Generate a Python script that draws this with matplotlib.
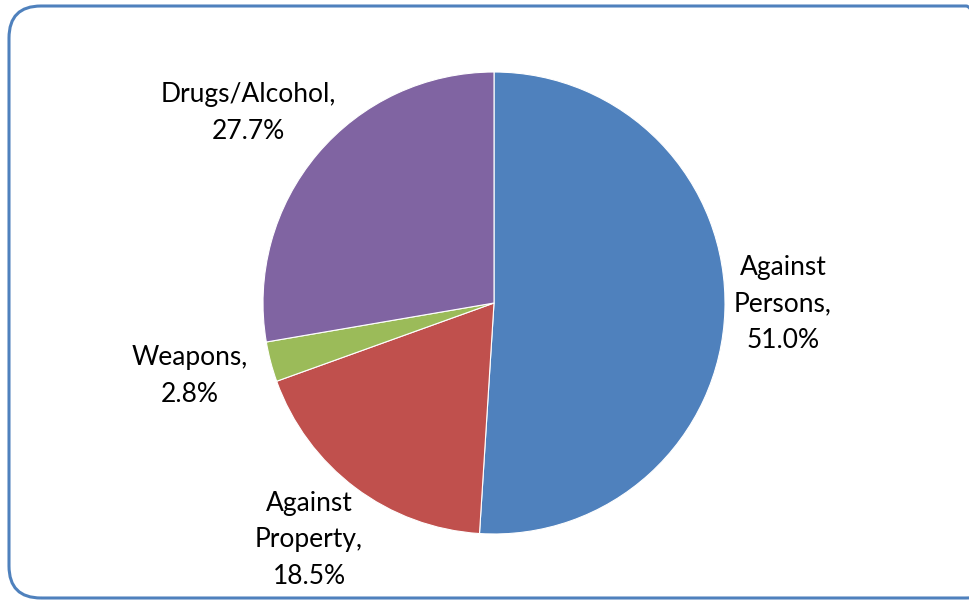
import matplotlib.pyplot as plt
from matplotlib.patches import FancyBboxPatch

categories = ["Against\nPersons,", "Against\nProperty,", "Weapons,", "Drugs/Alcohol,"]
shares = [51.0, 18.5, 2.8, 27.7]
colors = ["#4F81BD", "#C0504D", "#9BBB59", "#8064A2"]

W, H = 969, 601
fig = plt.figure(figsize=(W / 100, H / 100), dpi=100)
ax = fig.add_axes([0, 0, 1, 1])

# rounded chart frame, running off the right edge
frame = FancyBboxPatch((9, 3), W + 20, H - 9,
                       boxstyle="round,pad=0,rounding_size=32",
                       fill=False, edgecolor="#4F81BD", lw=2.2,
                       transform=ax.transData, clip_on=False)
ax.add_patch(frame)

cx, cy, r = 494, H - 303, 231
ax.pie(shares, colors=colors, startangle=90, counterclock=False,
       center=(cx, cy), radius=r, frame=True,
       wedgeprops=dict(edgecolor="white", linewidth=0.8))
ax.set_xlim(0, W)
ax.set_ylim(0, H)
ax.set_aspect("equal")
ax.axis("off")

label_pos = [(783, H - 304), (309, H - 540), (190, H - 376), (248, H - 113)]
for name, val, (x, y) in zip(categories, shares, label_pos):
    ax.text(x, y, f"{name}\n{val:.1f}%", ha="center", va="center",
            fontsize=19, family="Lato", linespacing=1.6, color="black")

fig.savefig("out.png", dpi=100)
